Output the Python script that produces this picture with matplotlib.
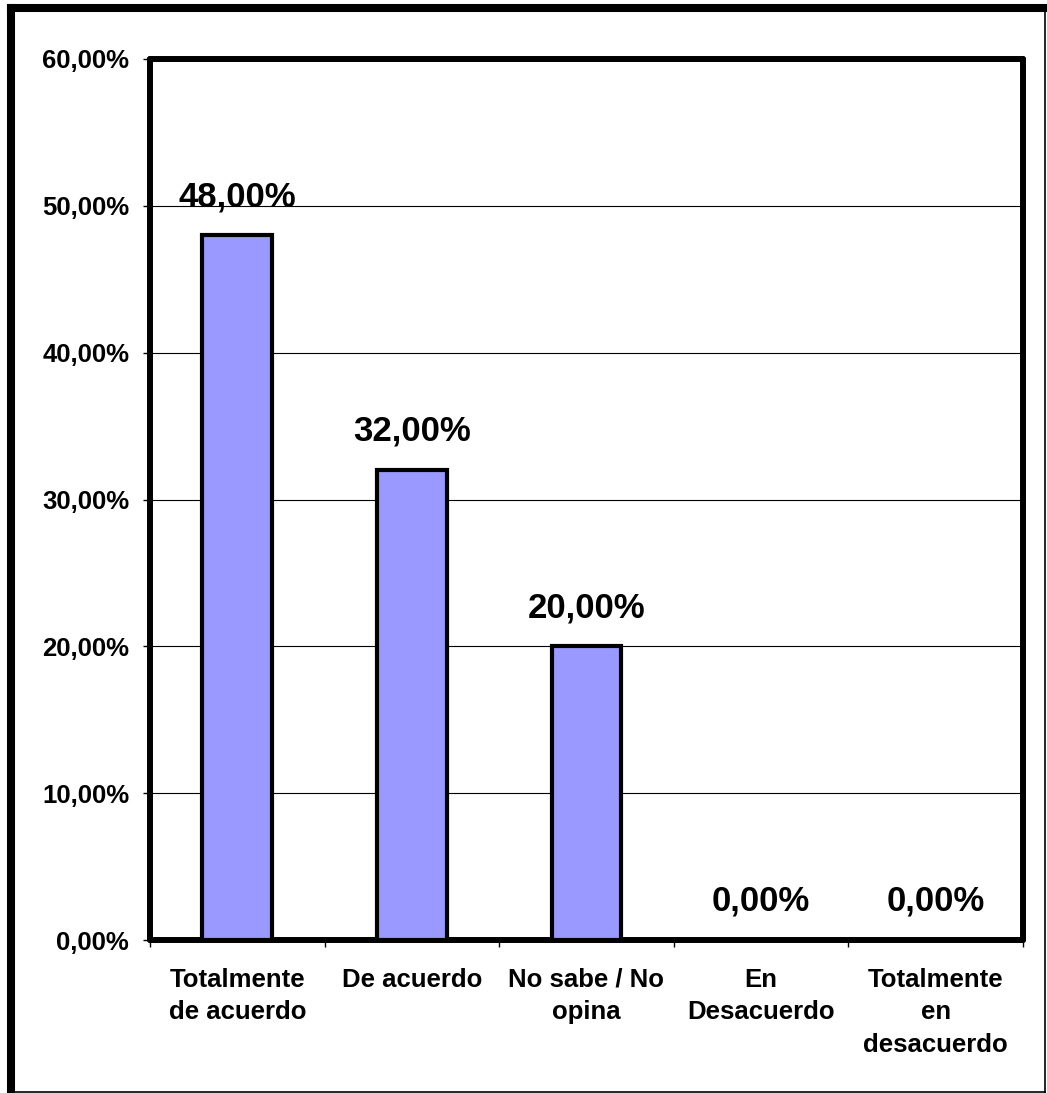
import matplotlib
matplotlib.use('Agg')
import matplotlib.pyplot as plt
from matplotlib.lines import Line2D
from matplotlib.ticker import FuncFormatter, MultipleLocator

categories = ['Totalmente\nde acuerdo', 'De acuerdo', 'No sabe / No\nopina',
              'En\nDesacuerdo', 'Totalmente\nen\ndesacuerdo']
values = [48.0, 32.0, 20.0, 0.0, 0.0]

plt.rcParams['font.family'] = ['Liberation Sans', 'DejaVu Sans']
plt.rcParams['font.weight'] = 'bold'

W, H = 1047, 1093
fig = plt.figure(figsize=(W / 100, H / 100), dpi=100)
ax = fig.add_axes([150 / W, 1 - 940 / H, (1023 - 150) / W, (940 - 59) / H])


def pct(v, pos=None):
    return '{:.2f}%'.format(v).replace('.', ',')


x = list(range(len(categories)))
ax.bar(x, values, width=0.4, color='#9999ff', edgecolor='black', linewidth=3, zorder=3)
for xi, v in zip(x, values):
    ax.annotate(pct(v), (xi, v), xytext=(0, 21), textcoords='offset points',
                ha='center', va='baseline', fontsize=25, fontweight='bold', zorder=4)

ax.set_xlim(-0.5, len(categories) - 0.5)
ax.set_ylim(0, 60)
ax.yaxis.set_major_locator(MultipleLocator(10))
ax.yaxis.set_major_formatter(FuncFormatter(pct))
ax.grid(axis='y', color='black', linewidth=0.8, zorder=1)

ax.set_xticks(x)
ax.set_xticklabels(categories, linespacing=1.45)
ax.set_xticks([i - 0.5 for i in range(len(categories) + 1)], minor=True)
ax.tick_params(axis='x', which='major', length=0, pad=20, labelsize=18.5)
ax.tick_params(axis='x', which='minor', length=5, width=1, direction='out')
ax.tick_params(axis='y', length=5, width=1, pad=10, labelsize=18.5)
for lab in ax.get_xticklabels() + ax.get_yticklabels():
    lab.set_fontweight('bold')

for s in ax.spines.values():
    s.set_linewidth(4.3)
    s.set_capstyle('round')

# outer frame: thick left/top, thin right/bottom
fig.add_artist(Line2D([11 / W, 11 / W], [0, 1 - 8 / H], color='black', lw=5.8))
fig.add_artist(Line2D([11 / W, 1045 / W], [1 - 8 / H, 1 - 8 / H], color='black', lw=5.8))
fig.add_artist(Line2D([1045 / W, 1045 / W], [0, 1 - 8 / H], color='black', lw=1.2))
fig.add_artist(Line2D([11 / W, 1045 / W], [1 / H, 1 / H], color='black', lw=1.2))

fig.savefig('out.png', dpi=100)
